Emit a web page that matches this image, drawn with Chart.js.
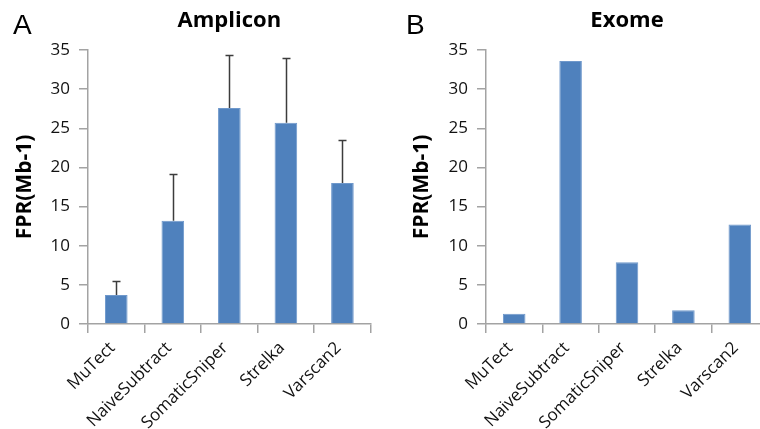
<!DOCTYPE html>
<html>
<head>
<meta charset="utf-8">
<script src="https://cdn.jsdelivr.net/npm/chart.js@4/dist/chart.umd.min.js"></script>
<style>
  html, body { margin: 0; padding: 0; background: #fff; overflow: hidden; width: 760px; height: 429px; }
  #wrap { position: relative; width: 760px; height: 429px; overflow: hidden; }
  .panel { position: absolute; top: 0; height: 429px; }
  .letter { position: absolute; font-family: "Liberation Sans", Arial, sans-serif; font-size: 28px; line-height: 28px; color: #000; }
</style>
</head>
<body>
<div id="wrap">
  <div class="panel" style="left:0px;width:380px;"><canvas id="cA"></canvas></div>
  <div class="panel" style="left:380px;width:400px;"><canvas id="cB"></canvas></div>
  <div class="letter" style="left:13px;top:11px;">A</div>
  <div class="letter" style="left:406px;top:11px;">B</div>
</div>
<script>
const categories = ["MuTect", "NaiveSubtract", "SomaticSniper", "Strelka", "Varscan2"];
const ampliconValues = [3.7, 13.2, 27.6, 25.7, 18.0];
const ampliconErrors = [1.8, 6.0, 6.7, 8.3, 5.5];
const exomeValues = [1.3, 33.6, 7.9, 1.75, 12.7];
const yTicks = [0, 5, 10, 15, 20, 25, 30, 35];
const titleA = "Amplicon";
const titleB = "Exome";
const yAxisTitle = "FPR(Mb-1)";

const BAR = "#4F81BD";
const AXIS = "#a3a3a3";
const FONT = "'Open Sans', sans-serif";

const errorBarPlugin = {
  id: 'errorBars',
  afterDatasetsDraw(chart, args, opts) {
    const errs = opts.errors;
    if (!errs) return;
    const ctx = chart.ctx;
    const meta = chart.getDatasetMeta(0);
    const ys = chart.scales.y;
    const vals = chart.data.datasets[0].data;
    ctx.save();
    ctx.strokeStyle = "#3c3c3c";
    ctx.lineWidth = 1.5;
    meta.data.forEach((bar, i) => {
      const x = Math.round(bar.x) + 0.5;
      const y0 = ys.getPixelForValue(vals[i]);
      const y1 = Math.round(ys.getPixelForValue(vals[i] + errs[i])) + 0.5;
      ctx.beginPath();
      ctx.moveTo(x, y0);
      ctx.lineTo(x, y1);
      ctx.moveTo(x - 4, y1);
      ctx.lineTo(x + 4, y1);
      ctx.stroke();
    });
    ctx.restore();
  }
};

function makeChart(id, values, errors, title, padL, yWidth, padR) {
  return new Chart(document.getElementById(id), {
    type: 'bar',
    data: {
      labels: categories,
      datasets: [{
        data: values,
        backgroundColor: BAR,
        borderColor: "#6f98cb",
        borderWidth: 1,
        barPercentage: 0.40,
        categoryPercentage: 1.0
      }]
    },
    options: {
      responsive: true,
      maintainAspectRatio: false,
      animation: false,
      devicePixelRatio: 1,
      layout: { padding: { left: padL, right: padR, top: 0, bottom: 0 } },
      plugins: {
        legend: { display: false },
        tooltip: { enabled: false },
        title: {
          display: true,
          text: title,
          fullSize: false,
          color: "#000",
          font: { family: FONT, size: 22, weight: 'bold', lineHeight: 1.2 },
          padding: { top: 8, bottom: 15.6 }
        },
        errorBars: { errors: errors }
      },
      scales: {
        x: {
          offset: true,
          border: { display: true, color: AXIS, width: 1.5 },
          grid: { display: true, drawOnChartArea: false, drawTicks: true, tickLength: 9, color: AXIS, lineWidth: 1.5, offset: true },
          ticks: {
            color: "#111",
            font: { family: FONT, size: 17 },
            minRotation: 45, maxRotation: 45,
            padding: 5,
            labelOffset: -4,
            autoSkip: false
          },
          afterFit(scale) { scale.height = 105; }
        },
        y: {
          min: 0, max: 35,
          afterBuildTicks(scale) { scale.ticks = yTicks.map(v => ({ value: v })); },
          border: { display: true, color: AXIS, width: 1.5 },
          grid: { display: true, drawOnChartArea: false, drawTicks: true, tickLength: 9, color: AXIS, lineWidth: 1.5 },
          ticks: {
            color: "#111",
            font: { family: FONT, size: 17 },
            padding: 9
          },
          title: {
            display: true,
            text: yAxisTitle,
            color: "#000",
            font: { family: FONT, size: 21, weight: 'bold', lineHeight: 1.2 },
            padding: { top: 0, bottom: 0 }
          },
          afterFit(scale) { scale.width = yWidth; }
        }
      }
    },
    plugins: [errorBarPlugin]
  });
}

makeChart('cA', ampliconValues, ampliconErrors, titleA, 12, 76, 9.3);
makeChart('cB', exomeValues, null, titleB, 29, 77, 12);
</script>
</body>
</html>
